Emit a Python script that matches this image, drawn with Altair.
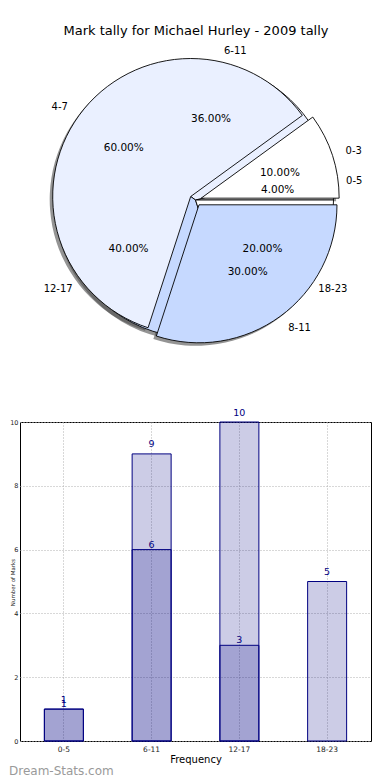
import math
import altair as alt
import pandas as pd

TITLE = "Mark tally for Michael Hurley - 2009 tally"
pie1_labels = ["0-3", "4-7", "8-11"]
pie1_values = [1, 6, 3]
pie2_labels = ["0-5", "6-11", "12-17", "18-23"]
pie2_values = [1, 9, 10, 5]
pie_colors = ["#ffffff", "#eaf0ff", "#c6d9ff"]
x_labels = pie2_labels
bar_a = pie2_values
bar_b = pie1_values
y_ticks = [0, 2, 4, 6, 8, 10]
y_title = "Number of Marks"
x_title = "Frequency"
watermark = "Dream-Stats.com"

FONT = "DejaVu Sans"
NAVY = "#000080"
R = 138
W1, H1 = 351, 382
W2, H2 = 351, 319


def pie_frame(labels, values, explode):
    total = float(sum(values))
    rows = []
    start = 0.0
    for i, (lab, v) in enumerate(zip(labels, values)):
        frac = v / total
        end = start + frac * 2 * math.pi
        mid = (start + end) / 2
        cx = explode * math.cos(mid)
        cy = explode * math.sin(mid)
        rows.append(dict(
            label=lab, pct=f"{frac * 100:.2f}%",
            t1=math.pi / 2 - end, t2=math.pi / 2 - start,
            cx=cx, cy=cy,
            lx=cx + 1.1 * math.cos(mid), ly=cy + 1.1 * math.sin(mid),
            px=cx + 0.6 * math.cos(mid), py=cy + 0.6 * math.sin(mid),
            side="L" if math.cos(mid) > 0 else "R",
            color=pie_colors[i % len(pie_colors)],
        ))
        start = end
    return pd.DataFrame(rows)


p1 = pie_frame(pie1_labels, pie1_values, 0.043)
p2 = pie_frame(pie2_labels, pie2_values, 0.0)

xs = alt.Scale(domain=[-W1 / 2 / R, W1 / 2 / R])
ys = alt.Scale(domain=[-H1 / 2 / R, H1 / 2 / R])


def arc_enc(ch):
    return ch.encode(
        x=alt.X("cx:Q", scale=xs, axis=None),
        y=alt.Y("cy:Q", scale=ys, axis=None),
        theta=alt.Theta("t1:Q", scale=None, stack=False),
        theta2=alt.Theta2("t2:Q"),
    )


def shadow(df):
    return arc_enc(alt.Chart(df).mark_arc(radius=R, fill="#4d4d4d", fillOpacity=0.6,
                                          xOffset=-3, yOffset=3, strokeWidth=0))


def wedges(df):
    return arc_enc(alt.Chart(df).mark_arc(radius=R, stroke="black", strokeWidth=0.9)).encode(
        fill=alt.Fill("color:N", scale=None)
    )


def texts(df):
    left = alt.Chart(df).transform_filter("datum.side == 'L'").mark_text(
        align="left", baseline="middle", fontSize=10, font=FONT, color="black"
    ).encode(x=alt.X("lx:Q", scale=xs, axis=None), y=alt.Y("ly:Q", scale=ys, axis=None), text="label:N")
    right = alt.Chart(df).transform_filter("datum.side == 'R'").mark_text(
        align="right", baseline="middle", fontSize=10, font=FONT, color="black"
    ).encode(x=alt.X("lx:Q", scale=xs, axis=None), y=alt.Y("ly:Q", scale=ys, axis=None), text="label:N")
    pct = alt.Chart(df).mark_text(
        align="center", baseline="middle", fontSize=10.5, font=FONT, color="black"
    ).encode(x=alt.X("px:Q", scale=xs, axis=None), y=alt.Y("py:Q", scale=ys, axis=None), text="pct:N")
    return [left, right, pct]


title_df = pd.DataFrame({"t": [TITLE]})
title = alt.Chart(title_df).mark_text(
    align="center", baseline="middle", fontSize=13, font=FONT, color="black"
).encode(x=alt.value(176), y=alt.value(22), text="t:N")

pie = alt.layer(
    shadow(p2), shadow(p1), wedges(p2), wedges(p1),
    *texts(p2), *texts(p1), title
).properties(width=W1, height=H1, view=alt.ViewBackground(stroke="transparent"))

# ---------------- bar chart ----------------
a_df = pd.DataFrame({"cat": x_labels, "v": bar_a})
b_df = pd.DataFrame({"cat": x_labels[:len(bar_b)], "v": bar_b})

xenc = alt.X(
    "cat:N", sort=x_labels,
    scale=alt.Scale(domain=x_labels, paddingInner=0, paddingOuter=0),
    axis=alt.Axis(title=x_title, labelAngle=0, labelFontSize=7.5, labelColor="#222222",
                  labelFont=FONT, ticks=False, domain=False, grid=True, gridDash=[1, 2],
                  gridColor="#b0b0b0", bandPosition=0.5, labelPadding=4,
                  titleFontSize=10, titleFont=FONT, titleFontWeight="normal",
                  titlePadding=2, titleColor="black"),
)
yenc = alt.Y(
    "v:Q", scale=alt.Scale(domain=[0, 10], nice=False),
    axis=alt.Axis(values=y_ticks, title=y_title, grid=True, gridDash=[1, 2], gridColor="#b0b0b0",
                  ticks=False, domain=False, labelFontSize=6.5, labelFont=FONT, labelColor="#222222",
                  labelPadding=2, titleFontSize=5.5, titleFont=FONT, titleFontWeight="normal",
                  titleColor="#222222", titleX=-5, titleY=160, titleBaseline="bottom"),
)

bar_style = dict(size=39, fill=NAVY, fillOpacity=0.2, stroke=NAVY, strokeWidth=1)
bars_a = alt.Chart(a_df).mark_bar(**bar_style).encode(x=xenc, y=yenc)
bars_b = alt.Chart(b_df).mark_bar(**bar_style).encode(x=xenc, y=yenc)
lab_a = alt.Chart(a_df).mark_text(dy=-9.5, fontSize=9.5, font=FONT, color=NAVY, baseline="middle").encode(
    x=xenc, y=yenc, text="v:Q")
lab_b = alt.Chart(b_df).mark_text(dy=-5, fontSize=9.5, font=FONT, color=NAVY, baseline="middle").encode(
    x=xenc, y=yenc, text="v:Q")

wm_df = pd.DataFrame({"t": [watermark]})
wm = alt.Chart(wm_df).mark_text(
    align="left", baseline="middle", fontSize=12, font=FONT, color="#9a9a9a"
).encode(x=alt.value(-11), y=alt.value(349), text="t:N")

bars = alt.layer(bars_a, bars_b, lab_a, lab_b, wm).properties(
    width=W2, height=H2, view=alt.ViewBackground(stroke="black", strokeWidth=1)
)

chart = alt.vconcat(pie, bars, spacing=31, bounds="flush").properties(
    padding={"left": 0, "top": 0, "right": 0, "bottom": 0}
).configure(font=FONT, background="white")

chart.save("out.html", embed_options={"renderer": "svg", "actions": False})
